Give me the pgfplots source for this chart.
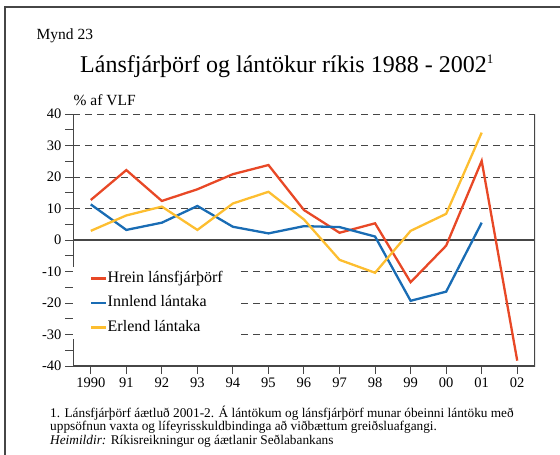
\documentclass[border=0pt]{standalone}
\usepackage{fontspec}
\setmainfont{Liberation Serif}
\usepackage{pgfplots}
\pgfplotsset{compat=1.18}
\definecolor{cred}{RGB}{232,72,38}
\definecolor{cblue}{RGB}{25,108,180}
\definecolor{cyel}{RGB}{253,190,48}
\definecolor{cgrid}{RGB}{70,70,70}
\begin{document}
\begin{tikzpicture}
\useasboundingbox (0,0) rectangle (560bp,-455bp);
\draw[cgrid, line width=1.2bp] (5bp,-455bp) -- (5bp,-7bp) -- (560bp,-7bp);
\node[anchor=base west, font=\fontsize{15.5bp}{18bp}\selectfont, inner sep=0] at (36.5bp,-39.3bp) {Mynd 23};
\node[anchor=base, font=\fontsize{24bp}{28bp}\selectfont, inner sep=0] at (287bp,-72bp) {Lánsfjárþörf og lántökur ríkis 1988 - 2002\textsuperscript{\fontsize{13bp}{14bp}\selectfont 1}};
\node[anchor=base west, font=\fontsize{15.5bp}{18bp}\selectfont, inner sep=0] at (73.5bp,-105.7bp) {\% af VLF};
\node[anchor=base west, font=\fontsize{13.3bp}{15bp}\selectfont, inner sep=0] at (50bp,-417bp) {1. Lánsfjárþörf áætluð 2001-2. Á lántökum og lánsfjárþörf munar óbeinni lántöku með};
\node[anchor=base west, font=\fontsize{13.3bp}{15bp}\selectfont, inner sep=0] at (50bp,-430.5bp) {uppsöfnun vaxta og lífeyrisskuldbindinga að viðbættum greiðsluafgangi.};
\node[anchor=base west, font=\fontsize{13.3bp}{15bp}\selectfont, inner sep=0] at (50bp,-444bp) {\textit{Heimildir:} Ríkisreikningur og áætlanir Seðlabankans};
\begin{axis}[at={(73bp,-366bp)}, anchor=south west, scale only axis, width=462bp, height=252bp,
 xmin=1989.5, xmax=2002.5, ymin=-40, ymax=40,
 xtick={1990,...,2002}, xticklabels={1990,91,92,93,94,95,96,97,98,99,00,01,02},
 ytick={-40,-30,...,40}, minor y tick num=1,
 xtick pos=bottom, ytick pos=left, tick align=outside,
 major tick length=8bp, minor tick length=8bp,
 every tick/.style={cgrid, line width=1bp},
 axis line style={draw=none},
 ymajorgrids, major grid style={cgrid, line width=1bp, dash pattern=on 7bp off 5bp},
 ticklabel style={font=\fontsize{14.5bp}{16bp}\selectfont},
 /pgf/number format/assume math mode=true,
 legend style={at={(axis cs:1989.5,-8.6)}, anchor=north west, draw=none, fill=white,
   font=\fontsize{16bp}{18bp}\selectfont, inner xsep=17bp, inner ysep=4bp, row sep=10bp,
   nodes={inner sep=0pt, text height=11bp, text depth=3.5bp},
   /tikz/every even column/.append style={column sep=3bp}},
 legend cell align=left,
 legend image code/.code={\draw[#1, line width=2.5bp] (0bp,0bp) -- (15bp,0bp);},
]
\draw[cgrid, line width=1.2bp] (axis cs:1989.5,40) -- (axis cs:1989.5,-40) -- (axis cs:2002.5,-40) -- (axis cs:2002.5,40);
\draw[cgrid, line width=1.2bp] (axis cs:1989.5,0) -- (axis cs:2002.5,0);
\addplot[cred, line width=2.3bp] coordinates {
(1990,12.7) (1991,22.2) (1992,12.4) (1993,16.1) (1994,20.9) (1995,23.8) (1996,9.5)
(1997,2.3) (1998,5.3) (1999,-13.4) (2000,-1.8) (2001,25.1) (2002,-38.3)};
\addlegendentry{Hrein lánsfjárþörf}
\addplot[cblue, line width=2.3bp] coordinates {
(1990,11.3) (1991,3.2) (1992,5.5) (1993,10.8) (1994,4.2) (1995,2.1) (1996,4.4)
(1997,4.1) (1998,1.1) (1999,-19.3) (2000,-16.4) (2001,5.5)};
\addlegendentry{Innlend lántaka}
\addplot[cyel, line width=2.3bp] coordinates {
(1990,2.9) (1991,7.8) (1992,10.6) (1993,3.2) (1994,11.6) (1995,15.3) (1996,6.5)
(1997,-6.3) (1998,-10.4) (1999,2.9) (2000,8.3) (2001,34.1)};
\addlegendentry{Erlend lántaka}
\end{axis}
\end{tikzpicture}
\end{document}
